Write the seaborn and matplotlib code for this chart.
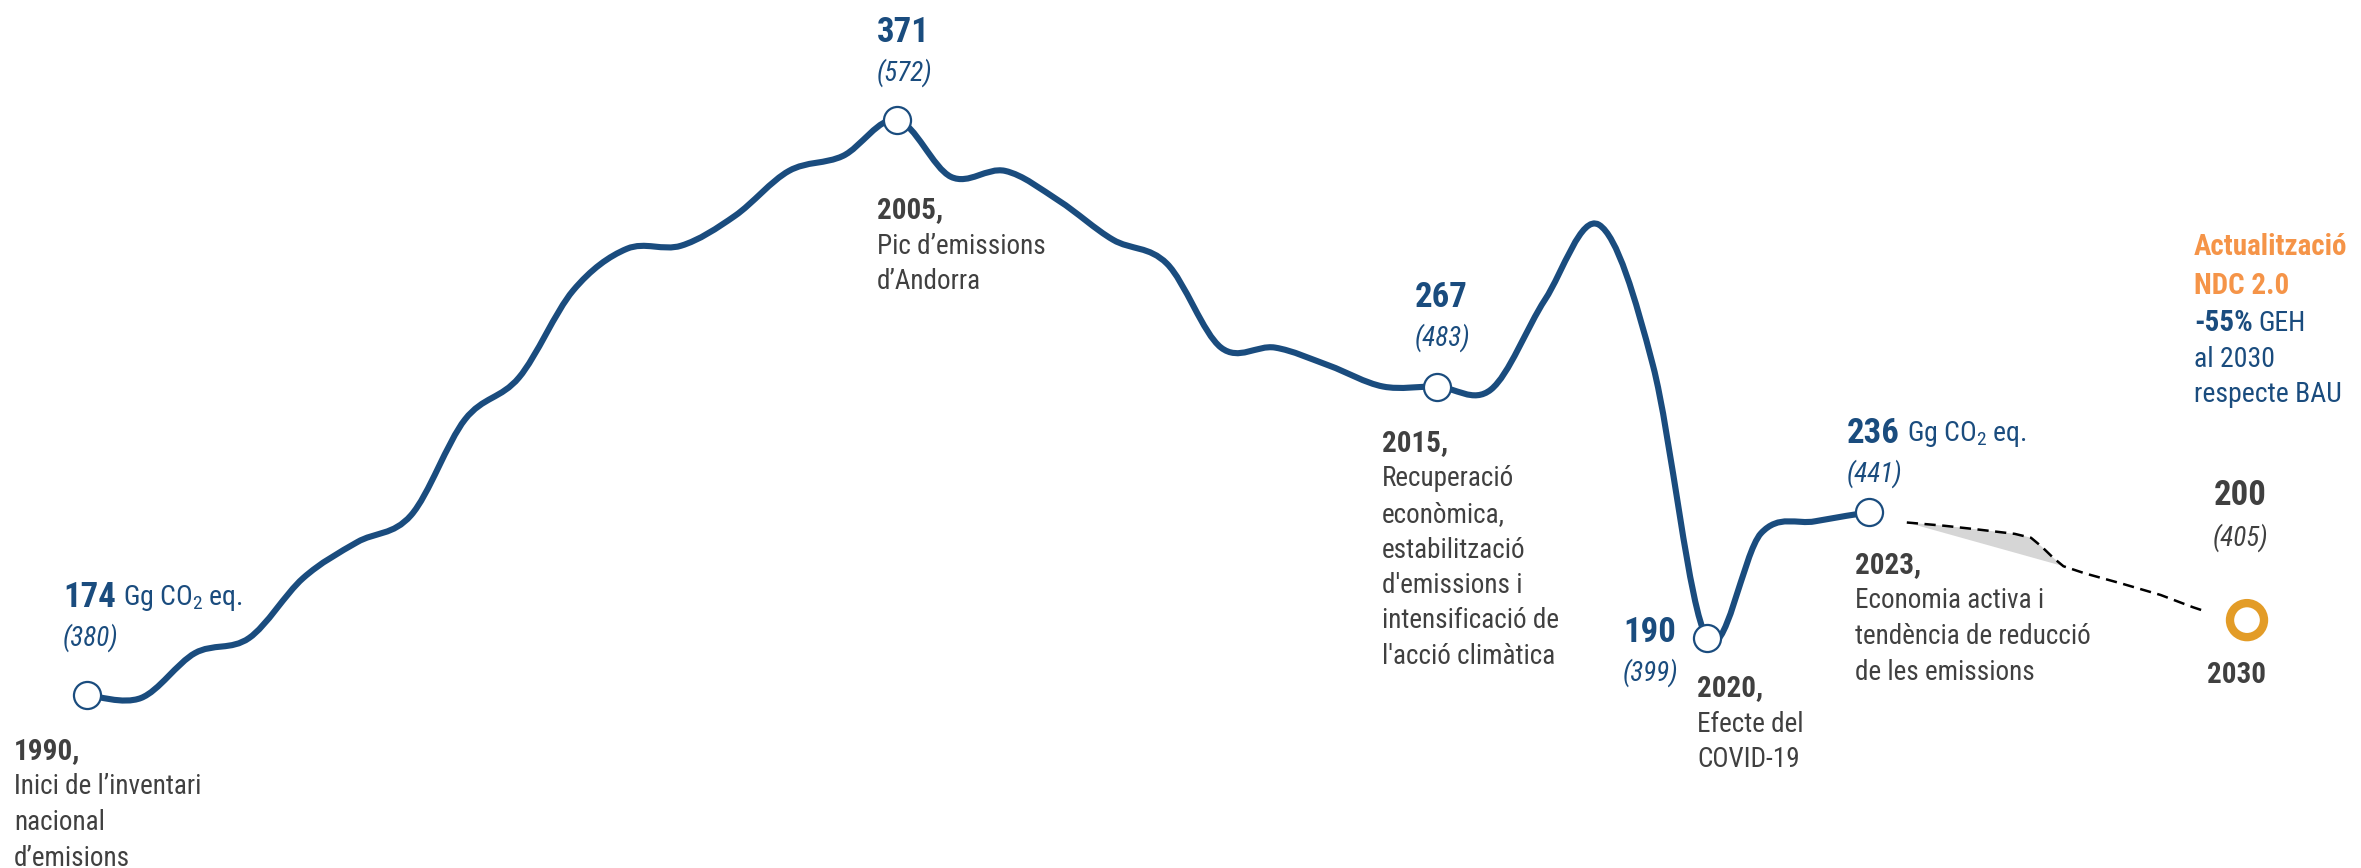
import numpy as np
import seaborn as sns
import matplotlib.pyplot as plt
from matplotlib import font_manager
from matplotlib.path import Path
from matplotlib.patches import PathPatch

# emissions (total, the figure in brackets) per year - the line follows these
years = list(range(1990, 2024))
total_emis = [380, 379, 394, 399, 419, 431, 440, 472, 486, 515,
              529, 530, 540, 555, 560, 572, 553, 555, 545, 532,
              524, 496, 496, 490, 483, 483, 482, 512, 537, 490,
              399, 434, 438, 441]

# highlighted years
key_years = [1990, 2005, 2015, 2020, 2023]
key_gg = ['174', '371', '267', '190', '236']
key_total = ['(380)', '(572)', '(483)', '(399)', '(441)']

# sketch of the trend 2023 -> 2030
proj_years = [2023.7, 2024.4, 2025.0, 2025.7, 2026.0, 2026.2, 2026.4, 2026.6, 2027.0, 2027.7, 2028.4, 2029.0, 2029.2]
proj_vals = [437.6, 436.5, 435.3, 433.8, 432.5, 429.5, 426.0, 423.0, 420.6, 417.1, 413.4, 409.3, 408.1]

target_year = [2030]
target_total = [405]

BLUE = '#1a4c7e'
GREY = '#404040'
ORANGE_TXT = '#f59448'
ORANGE = '#e39c27'

sns.set_theme(style='white')

# look for a narrow/condensed face (the original uses Arial Narrow)
flist = font_manager.fontManager.ttflist
names = {f.name for f in flist}
family, stretch = 'Liberation Sans', 'normal'
for pref in ['Liberation Sans Narrow', 'Arial Narrow', 'Roboto Condensed', 'Open Sans Condensed']:
    if pref in names:
        family = pref
        break
else:
    cond = {f.name for f in flist if str(f.stretch) in ('condensed', 'semi-condensed', 'extra-condensed')}
    for pref in ['Liberation Sans', 'Roboto', 'Open Sans', 'Noto Sans', 'Lato', 'Inter', 'DejaVu Sans']:
        if pref in cond:
            family, stretch = pref, 'condensed'
            break
plt.rcParams['font.family'] = [family, 'DejaVu Sans']
plt.rcParams['font.stretch'] = stretch
plt.rcParams['mathtext.fontset'] = 'custom'
plt.rcParams['mathtext.rm'] = family

W, H = 2361, 868
fig = plt.figure(figsize=(W / 100, H / 100), dpi=100)
ax = fig.add_axes([0, 0, 1, 1])
ax.set_xlim(1988.389, 2032.111)
ax.set_ylim(322.24, 612.05)
ax.axis('off')

# smooth line (bezier through the yearly points, like a "smoothed" excel line)
pts = np.column_stack([years, total_emis]).astype(float)
ext = np.vstack([pts[0], pts, pts[-1]])
verts = [tuple(pts[0])]
codes = [Path.MOVETO]
for i in range(len(pts) - 1):
    p0, p1, p2, p3 = ext[i], ext[i + 1], ext[i + 2], ext[i + 3]
    c1 = p1 + (p2 - p0) / 6
    c2 = p2 - (p3 - p1) / 6
    verts += [tuple(c1), tuple(c2), tuple(p2)]
    codes += [Path.CURVE4] * 3
ax.add_patch(PathPatch(Path(verts, codes), fill=False, edgecolor=BLUE, lw=4.4,
                       capstyle='round', joinstyle='round', zorder=2))

# projection: grey wedge + dashed line
k = proj_years.index(2026.6) + 1
ax.fill(proj_years[:k] + [proj_years[0]], proj_vals[:k] + [proj_vals[0]],
        color='#d6d6d6', lw=0, zorder=1)
ax.plot(proj_years, proj_vals, color='black', lw=1.8, dashes=(4.5, 2.6), zorder=2)

# markers
key_vals = [total_emis[years.index(y)] for y in key_years]
sns.scatterplot(x=key_years, y=key_vals, ax=ax, s=380, color='white',
                edgecolor=BLUE, linewidth=1.6, zorder=3, legend=False)
sns.scatterplot(x=target_year, y=target_total, ax=ax, s=600, facecolor='none',
                edgecolor=ORANGE, linewidth=6, zorder=3, legend=False)

BOLD_FS, REG_FS, IT_FS = 21, 19.5, 19.5


def txt(x, y, s, ha='left', **kw):
    return fig.text(x / W, 1 - y / H, s, va='baseline', ha=ha, **kw)


def value_label(x, y, big, small, unit=False):
    t = txt(x, y, big, fontsize=25, fontweight='bold', color=BLUE)
    if unit:
        ax.annotate(r'Gg CO$_\mathregular{2}$ eq.', xy=(1, 0), xycoords=t,
                    xytext=(5, 0.5), textcoords='offset points',
                    va='bottom', ha='left', fontsize=20, color=BLUE)
    txt(x, y + 39, small, fontsize=IT_FS, fontstyle='italic', color=BLUE)


def note(x, y, head, lines):
    txt(x, y, head, fontsize=BOLD_FS, fontweight='bold', color=GREY)
    for i, line in enumerate(lines):
        txt(x, y + 35.5 * (i + 1), line, fontsize=REG_FS, color=GREY)


value_label(63, 607, key_gg[0], key_total[0], unit=True)
value_label(877, 42, key_gg[1], key_total[1])
value_label(1415, 307, key_gg[2], key_total[2])
value_label(1623, 642, key_gg[3], key_total[3])
value_label(1847, 443, key_gg[4], key_total[4], unit=True)

note(14, 759, '1990,', ['Inici de l\u2019inventari', 'nacional', 'd\u2019emisions'])
note(877, 218, '2005,', ['Pic d\u2019emissions', 'd\u2019Andorra'])
note(1382, 451, '2015,', ['Recuperació', 'econòmica,', 'estabilització',
                          "d'emissions i", 'intensificació de', "l'acció climàtica"])
note(1697, 696, '2020,', ['Efecte del', 'COVID-19'])
note(1855, 573, '2023,', ['Economia activa i', 'tendència de reducció',
                          'de les emissions'])

# 2030 target
txt(2240, 505, '200', ha='center', fontsize=25, fontweight='bold', color=GREY)
txt(2240, 546, '(405)', ha='center', fontsize=IT_FS, fontstyle='italic', color=GREY)
txt(2236, 683, '2030', ha='center', fontsize=BOLD_FS, fontweight='bold', color=GREY)

txt(2194, 255, 'Actualització', fontsize=BOLD_FS, fontweight='bold', color=ORANGE_TXT)
txt(2194, 294, 'NDC 2.0', fontsize=BOLD_FS, fontweight='bold', color=ORANGE_TXT)
t = txt(2194, 331, '-55%', fontsize=BOLD_FS, fontweight='bold', color=BLUE)
ax.annotate('GEH', xy=(1, 0), xycoords=t, xytext=(4, 0), textcoords='offset points',
            va='bottom', ha='left', fontsize=20, color=BLUE)
txt(2194, 367, 'al 2030', fontsize=20, color=BLUE)
txt(2194, 402, 'respecte BAU', fontsize=20, color=BLUE)

fig.savefig('out.png', dpi=100)
